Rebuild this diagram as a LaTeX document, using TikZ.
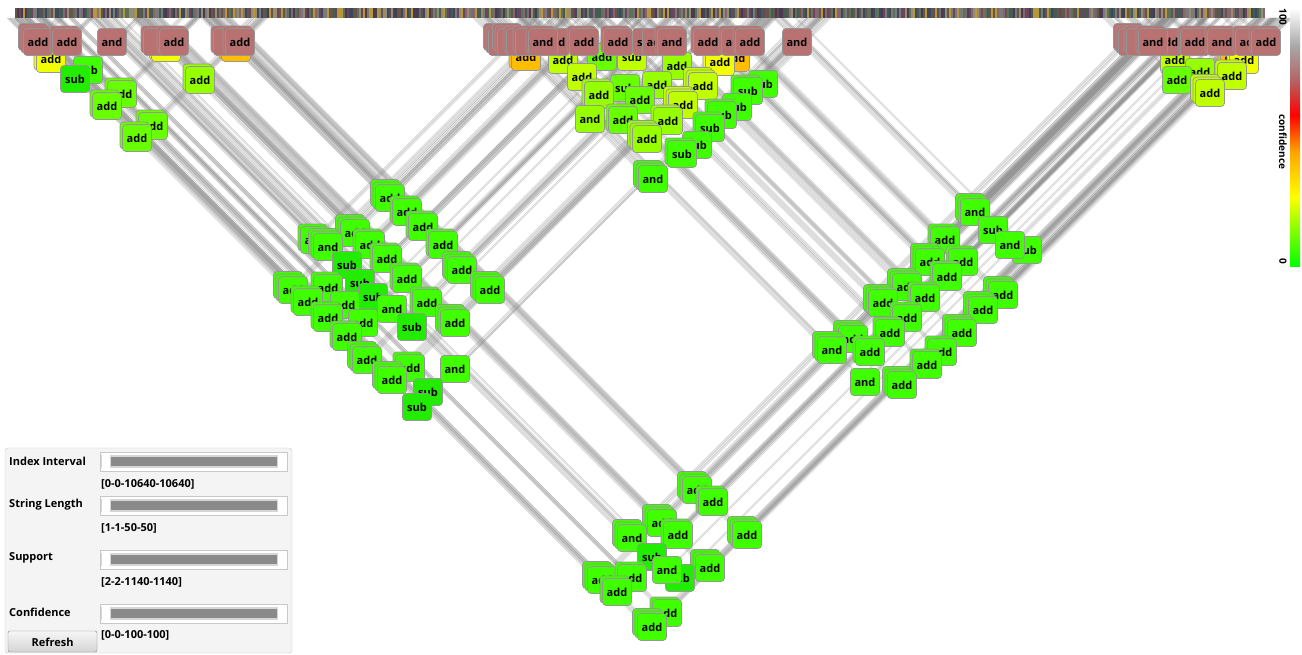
\documentclass[tikz,border=0pt]{standalone}
\usepackage{fontspec}
\setmainfont{Open Sans}
\usetikzlibrary{shadows,calc}
\pgfdeclarelayer{bg}
\pgfsetlayers{bg,main}
\definecolor{cG}{RGB}{64,255,0}
\definecolor{cGd}{RGB}{34,236,0}
\definecolor{cG2}{RGB}{104,255,0}
\definecolor{cYG}{RGB}{150,255,0}
\definecolor{cYG2}{RGB}{192,255,0}
\definecolor{cY}{RGB}{242,255,0}
\definecolor{cO}{RGB}{255,190,0}
\definecolor{cT}{RGB}{184,114,114}
\definecolor{opb}{RGB}{150,150,150}
\definecolor{linkc}{RGB}{140,140,140}
\definecolor{panelf}{RGB}{244,244,244}
\definecolor{panelb}{RGB}{200,200,200}
\definecolor{trackc}{RGB}{214,214,214}
\definecolor{barc}{RGB}{138,138,138}
\definecolor{sc0}{RGB}{74,58,80}
\definecolor{sc1}{RGB}{100,86,72}
\definecolor{sc2}{RGB}{70,92,82}
\definecolor{sc3}{RGB}{122,122,122}
\definecolor{sc4}{RGB}{150,140,112}
\definecolor{sc5}{RGB}{184,150,60}
\definecolor{sc6}{RGB}{104,70,92}
\definecolor{sc7}{RGB}{62,72,92}
\definecolor{sc8}{RGB}{132,102,112}
\definecolor{sc9}{RGB}{92,112,92}
\tikzset{
  op/.style={draw=opb, line width=0.7pt, rounded corners=3.5pt, minimum width=29pt,
    minimum height=27pt, inner sep=0pt, font=\fontsize{11}{12}\selectfont\bfseries},
  stack0/.style={},
  stack1/.style={copy shadow={shadow xshift=-2.5pt, shadow yshift=2.5pt}},
  stack2/.style={double copy shadow={shadow xshift=-2.5pt, shadow yshift=2.5pt}},
  link/.style={draw=linkc, line width=0.8pt, opacity=0.3},
  ui/.style={font=\fontsize{11}{12}\selectfont\bfseries, inner sep=0pt},
  legtext/.style={font=\fontsize{10}{12}\selectfont\bfseries, rotate=-90, inner sep=0pt},
}
\newcommand\opnode[6]{%
  \node[op, fill=#5, stack#6] (#1) at (#2,#3) {#4};
  \pgfmathsetmacro{\dd}{#3-18}%
  \coordinate (#1l) at ($(#1.center)+(-\dd,-\dd)$);
  \coordinate (#1r) at ($(#1.center)+(\dd,-\dd)$);
  \begin{pgfonlayer}{bg}
    \foreach \k in {0,...,#6}{
      \foreach \e in {0,1.7}{
        \draw[link] ([xshift={-3*\k+\e}]#1.center) -- ([xshift={-3*\k+\e}]#1l);
        \draw[link] ([xshift={-3*\k+\e}]#1.center) -- ([xshift={-3*\k+\e}]#1r);
      }
    }
  \end{pgfonlayer}
}
\newcommand\uislider[1]{%
  \draw[draw=panelb, fill=white] (100,#1-9) rectangle (287,#1+10);
  \fill[trackc] (101,#1-6) rectangle (286,#1+7);
  \fill[barc] (111,#1-4) rectangle (277,#1+5);
  \fill[white] (102,#1-7) rectangle (110,#1+8);
  \fill[white] (278,#1-7) rectangle (286,#1+8);
}
\begin{document}
\begin{tikzpicture}[x=1pt,y=-1pt]
\useasboundingbox (0,0) rectangle (1302,654);
\begin{pgfonlayer}{bg}
\fill[white] (0,0) rectangle (1302,654);
\end{pgfonlayer}
% ---------- nodes behind the top row
\foreach \px/\py/\lb/\cl/\st [count=\i] in {
  51/59/add/cY/1, 88/70/sub/cG/0, 166/48/add/cY/1, 236/48/add/cO/1,
  526/57/add/cO/1, 563/60/add/cYG2/0, 602/57/add/cG2/0, 632/57/sub/cYG2/0,
  677/66/add/cYG/0, 735/58/add/cO/1, 720/62/add/cY/1,
  1175/60/add/cYG2/0, 1235/56/add/cO/1, 1244/60/add/cY/1}
  {\opnode{p\i}{\px}{\py}{\lb}{\cl}{\st}}
% ---------- top row
\foreach \px/\py/\lb/\cl/\st [count=\i] in {
  38/42/add/cT/2, 67/42/add/cT/1, 112/42/and/cT/0, 158/42/{}/cT/1, 174/42/add/cT/1,
  228/42/{}/cT/1, 240/42/add/cT/1,
  503/42/{}/cT/2, 512/42/{}/cT/2, 521/42/{}/cT/1, 530/42/{}/cT/1, 555/42/add/cT/0, 543/42/and/cT/1,
  584/42/add/cT/1, 618/42/add/cT/1, 647/42/sub/cT/0, 657/42/add/cT/0, 672/42/and/cT/1,
  708/42/add/cT/1, 736/42/add/cT/1, 750/42/add/cT/1, 797/42/and/cT/0,
  1133/42/{}/cT/2, 1141/42/{}/cT/1, 1168/42/add/cT/0, 1153/42/and/cT/1,
  1195/42/add/cT/1, 1222/42/and/cT/1, 1250/42/add/cT/1, 1266/42/add/cT/1}
  {\opnode{t\i}{\px}{\py}{\lb}{\cl}{\st}}
% ---------- upper clusters
\foreach \px/\py/\lb/\cl/\st [count=\i] in {
  75/79/sub/cGd/0, 200/80/add/cYG/1, 122/94/add/cG2/1, 107/106/add/cG2/1,
  153/126/add/cG2/1, 137/138/add/cG2/1,
  582/77/add/cYG2/0, 763/84/sub/cG/0, 657/85/add/cYG/0, 625/88/sub/cG2/0,
  703/86/add/cYG2/2, 748/91/sub/cG/1, 599/95/add/cYG/1, 640/100/add/cG2/0,
  683/105/add/cYG2/2, 737/107/sub/cG/0, 722/115/sub/cG/1, 590/119/and/cYG/0,
  623/120/add/cG2/1, 668/121/add/cYG/1, 710/128/sub/cG/1, 647/139/add/cYG/2,
  697/145/sub/cG/0, 682/154/sub/cG/1, 653/179/and/cG/2,
  1200/72/add/cYG/0, 1177/80/add/cG2/0, 1232/76/add/cYG2/1, 1210/93/add/cYG2/2}
  {\opnode{u\i}{\px}{\py}{\lb}{\cl}{\st}}
% ---------- left cluster
\foreach \px/\py/\lb/\cl/\st [count=\i] in {
  390/198/add/cG/2, 407/212/add/cG/1, 423/227/add/cG/1, 355/233/add/cG/2,
  315/240/and/cG/1, 443/245/add/cG/1, 370/245/add/cG/1, 328/247/and/cG/2,
  387/259/add/cG/1, 347/265/sub/cGd/0, 462/270/add/cG/2, 407/279/add/cG/1,
  360/283/sub/cGd/0, 328/288/add/cG/1, 293/290/add/cG/2, 490/290/add/cG/2,
  373/297/sub/cGd/0, 308/302/add/cG/1, 427/303/add/cG/1, 345/305/add/cG/0,
  392/309/and/cG/0, 328/318/add/cG/1, 363/323/add/cG/0, 455/323/add/cG/2,
  412/327/sub/cGd/0, 347/337/add/cG/1, 367/360/add/cG/2, 410/368/add/cG/1,
  455/369/and/cG/0, 392/380/add/cG/2, 428/392/sub/cGd/0, 417/407/sub/cGd/0}
  {\opnode{l\i}{\px}{\py}{\lb}{\cl}{\st}}
% ---------- right cluster
\foreach \px/\py/\lb/\cl/\st [count=\i] in {
  975/212/and/cG/2, 993/230/sub/cG/0, 945/240/add/cG/1, 1027/250/sub/cG/0,
  1010/245/and/cG/0, 963/262/add/cG/1, 930/262/add/cG/2, 947/277/add/cG/1,
  907/287/add/cG/2, 1003/295/add/cG/2, 925/298/add/cG/1, 883/303/add/cG/2,
  983/310/add/cG/2, 907/318/add/cG/1, 890/333/add/cG/1, 853/339/add/cG/2,
  962/333/add/cG/2, 832/350/and/cG/2, 870/352/add/cG/1, 942/352/add/cG/1,
  927/365/add/cG/1, 865/382/and/cG/0, 902/385/add/cG/2}
  {\opnode{r\i}{\px}{\py}{\lb}{\cl}{\st}}
% ---------- bottom cluster
\foreach \px/\py/\lb/\cl/\st [count=\i] in {
  697/490/add/cG/2, 713/502/add/cG/1, 662/523/add/cG/2, 678/535/add/cG/1,
  632/538/and/cG/2, 747/535/add/cG/2, 652/557/sub/cGd/0, 710/568/add/cG/2,
  680/578/sub/cGd/0, 667/570/and/cG/0, 602/580/add/cG/2, 632/578/add/cG/1,
  617/592/add/cG/1, 667/613/add/cG/1, 652/627/add/cG/2}
  {\opnode{b\i}{\px}{\py}{\lb}{\cl}{\st}}
% ---------- index strip
\pgfmathsetseed{4711}
\foreach \j in {0,...,624}{%
  \pgfmathrandominteger{\rr}{0}{9}%
  \fill[sc\rr] ({15+2*\j},8) rectangle ++(2.05,10);
}
% ---------- confidence legend
\shade[top color=white, bottom color={rgb,255:red,168;green,168;blue,168}] (1290,8) rectangle (1300,46);
\shade[top color={rgb,255:red,168;green,168;blue,168}, bottom color={rgb,255:red,180;green,100;blue,100}] (1290,46) rectangle (1300,80);
\shade[top color={rgb,255:red,180;green,100;blue,100}, bottom color=red] (1290,80) rectangle (1300,115);
\shade[top color=red, bottom color={rgb,255:red,255;green,165;blue,0}] (1290,115) rectangle (1300,152);
\shade[top color={rgb,255:red,255;green,165;blue,0}, bottom color=yellow] (1290,152) rectangle (1300,197);
\shade[top color=yellow, bottom color={rgb,255:red,0;green,255;blue,0}] (1290,197) rectangle (1300,266);
\node[legtext] (lg100) at (1283,17) {100};
\node[legtext] (lgconf) at (1283,142) {confidence};
\node[legtext] (lg0) at (1283,261) {0};
% ---------- control panel
\draw[draw=panelb, fill=panelf, rounded corners=3pt] (5,448) rectangle (292,653);
\uislider{461}
\uislider{505}
\uislider{559}
\uislider{613}
\node[ui, anchor=west] (lab1) at (9,461) {Index Interval};
\node[ui, anchor=west] (lab2) at (9,505) {String Length};
\node[ui, anchor=west] (lab3) at (9,558) {Support};
\node[ui, anchor=west] (lab4) at (9,612) {Confidence};
\node[ui, anchor=west] (val1) at (101,484) {[0-0-10640-10640]};
\node[ui, anchor=west] (val2) at (101,528) {[1-1-50-50]};
\node[ui, anchor=west] (val3) at (101,582) {[2-2-1140-1140]};
\node[ui, anchor=west] (val4) at (101,635) {[0-0-100-100]};
\shade[top color={rgb,255:red,246;green,246;blue,246}, bottom color={rgb,255:red,212;green,212;blue,212}, draw={rgb,255:red,128;green,128;blue,128}, rounded corners=2pt] (8,631) rectangle (97,652);
\node[ui] (refresh) at (52.5,642) {Refresh};
\end{tikzpicture}
\end{document}
